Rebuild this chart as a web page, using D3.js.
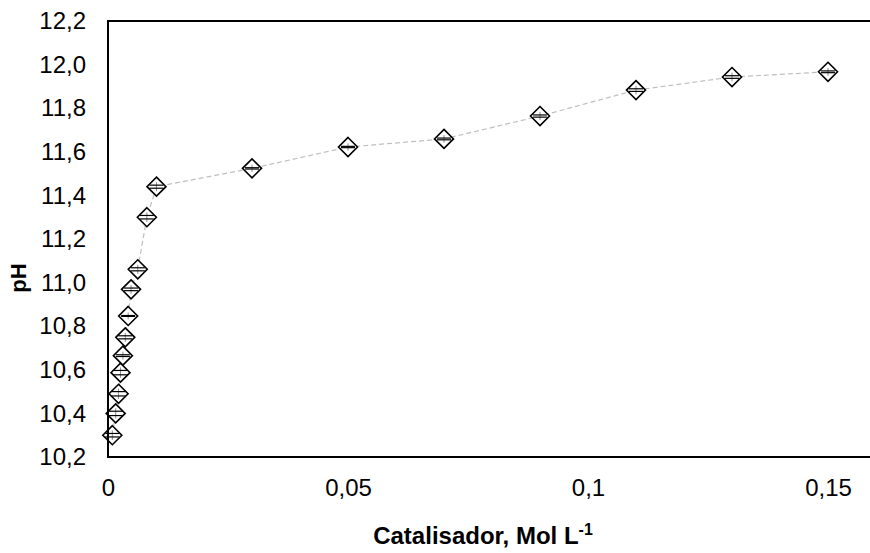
<!DOCTYPE html>
<html>
<head>
<meta charset="utf-8">
<script src="https://cdn.jsdelivr.net/npm/d3@7"></script>
<style>
  body { margin: 0; background: #fff; }
  svg { display: block; font-family: "Liberation Sans", Arial, sans-serif; }
</style>
</head>
<body>
<figure id="chart" style="margin:0"></figure>
<script>
// values
const catalisador = [0.0009, 0.0016, 0.0022, 0.0026, 0.0031, 0.0036, 0.0042, 0.0048, 0.0062,
  0.0081, 0.0101, 0.03, 0.05, 0.07, 0.09, 0.11, 0.13, 0.15];
const pH = [10.30, 10.40, 10.49, 10.587, 10.665, 10.749, 10.847, 10.969, 11.061,
  11.30, 11.44, 11.524, 11.622, 11.659, 11.764, 11.883, 11.943, 11.967];
const erro = [0.008, 0.010, 0.010, 0.010, 0.004, 0.007, 0.002, 0.006, 0.007,
  0.008, 0.007, 0.003, 0.003, 0.004, 0.005, 0.006, 0.006, 0.004];
const xTicks = [0, 0.05, 0.1, 0.15];
const yTicks = [10.2, 10.4, 10.6, 10.8, 11.0, 11.2, 11.4, 11.6, 11.8, 12.0, 12.2];

const width = 870, height = 553;
const plotLeft = 108, plotTop = 21, plotRight = 876, plotBottom = 457;

const data = catalisador.map((c, i) => ({ x: c, y: pH[i], e: erro[i] }));

const svg = d3.select("figure#chart")
  .append("svg")
  .attr("width", width)
  .attr("height", height);

const x = d3.scaleLinear().domain([0, 0.16]).range([plotLeft, plotRight]);
const y = d3.scaleLinear().domain([10.2, 12.2]).range([plotBottom, plotTop]);

const comma = s => s.replace(".", ",");

// X axis labels
const xAxis = svg.append("g")
  .attr("transform", "translate(0," + plotBottom + ")")
  .call(d3.axisBottom(x).tickValues(xTicks).tickSize(0).tickPadding(22)
    .tickFormat(d => comma(d3.format("")(d))));
xAxis.select(".domain").remove();
xAxis.selectAll("text")
  .style("font-size", "24px")
  .style("font-family", "Liberation Sans, Arial, sans-serif")
  .attr("fill", "#000");

// Y axis labels
const yAxis = svg.append("g")
  .attr("transform", "translate(" + plotLeft + ",0)")
  .call(d3.axisLeft(y).tickValues(yTicks).tickSize(0).tickPadding(22)
    .tickFormat(d => comma(d3.format(".1f")(d))));
yAxis.select(".domain").remove();
yAxis.selectAll("text")
  .style("font-size", "24px")
  .style("font-family", "Liberation Sans, Arial, sans-serif")
  .attr("fill", "#000");

// dashed connecting line
svg.append("path")
  .datum(data)
  .attr("fill", "none")
  .attr("stroke", "#bfbfbf")
  .attr("stroke-width", 1.2)
  .attr("stroke-dasharray", "5,3")
  .attr("d", d3.line().x(d => x(d.x)).y(d => y(d.y)));

// diamonds
const r = 9.5;
const diamond = "M0," + (-r) + "L" + r + ",0L0," + r + "L" + (-r) + ",0Z";
const pts = svg.append("g");
pts.selectAll("path")
  .data(data)
  .enter()
  .append("path")
  .attr("d", diamond)
  .attr("transform", d => "translate(" + x(d.x) + "," + y(d.y) + ")")
  .attr("fill", "#fff")
  .attr("stroke", "#000")
  .attr("stroke-width", 1.6);

// error bars
const eb = svg.append("g");
eb.selectAll("line.v")
  .data(data)
  .enter()
  .append("line")
  .attr("class", "v")
  .attr("x1", d => x(d.x)).attr("x2", d => x(d.x))
  .attr("y1", d => y(d.y + d.e) - 3).attr("y2", d => y(d.y - d.e) + 3)
  .attr("stroke", "#8c8c8c")
  .attr("stroke-width", 1);
[1, -1].forEach(s => {
  eb.selectAll("line.c" + s)
    .data(data)
    .enter()
    .append("line")
    .attr("x1", d => x(d.x) - 7).attr("x2", d => x(d.x) + 7)
    .attr("y1", d => y(d.y + s * d.e)).attr("y2", d => y(d.y + s * d.e))
    .attr("stroke", "#000")
    .attr("stroke-width", 1.2);
});

// frame
svg.append("rect")
  .attr("x", plotLeft).attr("y", plotTop)
  .attr("width", plotRight - plotLeft).attr("height", plotBottom - plotTop)
  .attr("fill", "none")
  .attr("stroke", "#000")
  .attr("stroke-width", 2);

// axis titles
const xt = svg.append("text")
  .attr("x", 483).attr("y", 544)
  .attr("text-anchor", "middle")
  .style("font-size", "24px")
  .style("font-weight", "bold");
xt.append("tspan").text("Catalisador, Mol L");
xt.append("tspan").attr("dy", -9).style("font-size", "16px").text("-1");

svg.append("text")
  .attr("transform", "translate(26,278) rotate(-90)")
  .attr("text-anchor", "middle")
  .style("font-size", "22px")
  .style("font-weight", "bold")
  .text("pH");
</script>
</body>
</html>
